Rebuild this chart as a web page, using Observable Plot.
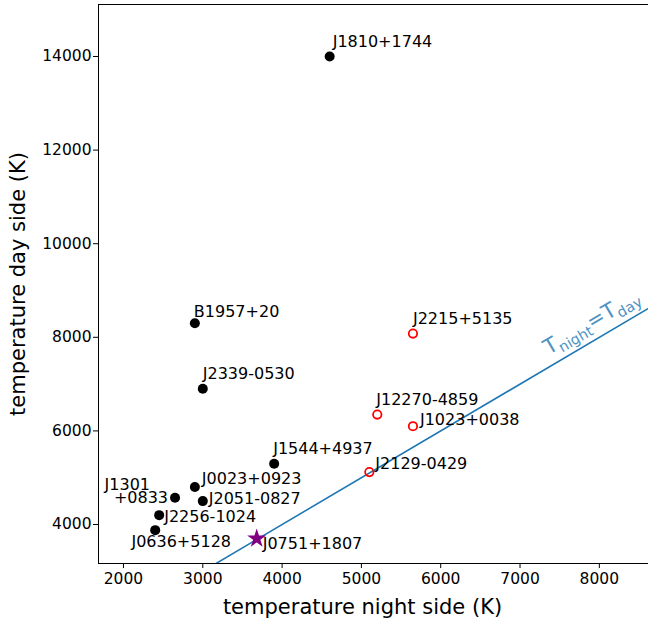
<!DOCTYPE html>
<html><head><meta charset="utf-8">
<script src="https://cdn.jsdelivr.net/npm/d3@7"></script>
<script src="https://cdn.jsdelivr.net/npm/@observablehq/plot@0.6"></script>
<style>body{margin:0;background:#fff;} svg{font-family:"DejaVu Sans",sans-serif;}</style>
</head><body><div id="chart"></div>
<script>
// ---- data ----
const names  = ["J1810+1744","B1957+20","J2339-0530","J1544+4937","J0023+0923","J1301\n+0833","J2051-0827","J2256-1024","J0636+5128","J0751+1807","J2215+5135","J12270-4859","J1023+0038","J2129-0429"];
const tNight = [4600, 2900, 3000, 3900, 2900, 2650, 3000, 2450, 2400, 3680, 5650, 5200, 5650, 5100];
const tDay   = [14000, 8300, 6900, 5300, 4800, 4570, 4500, 4200, 3880, 3700, 8080, 6350, 6100, 5120];
const kind   = ["filled","filled","filled","filled","filled","filled","filled","filled","filled","star","open","open","open","open"];
const xTicks = [2000, 3000, 4000, 5000, 6000, 7000, 8000];
const yTicks = [4000, 6000, 8000, 10000, 12000, 14000];
const equalLine = [3000, 9000];            // T_night = T_day reference line
const lineLabel = ["T_night=T_day"];
const lineLabelPos = [7900, 8330];
const xLabel = ["temperature night side (K)"];
const yLabel = ["temperature day side (K)"];

// label placement (style, not data)
const labelDx = [3, -1, 0, -1, 7, -7, 6, 5, 26, 6, 0, -1, 7, 6];
const labelDy = [-14, -11, -14, -14, -7, -5.5, -1, 2, 13, 6, -14, -14, -6, -7];
const labelAnchor = ["start","start","start","start","start","end","start","start","middle","start","start","start","start","start"];

const rows = names.map((n, i) => ({name: n, x: tNight[i], y: tDay[i], kind: kind[i], dx: labelDx[i], dy: labelDy[i], anchor: labelAnchor[i]}));
const lineRows = equalLine.map(v => ({x: v, y: v}));

const plot = Plot.plot({
  width: 648, height: 624,
  marginLeft: 98, marginRight: 0, marginTop: 4, marginBottom: 61,
  style: {fontFamily: "DejaVu Sans", fontSize: "15.5px", color: "black", background: "white", overflow: "visible"},
  x: {domain: [1685, 8620], label: null},
  y: {domain: [3167, 15111], label: null},
  marks: [
    Plot.frame({anchor: "left", stroke: "black"}),
    Plot.frame({anchor: "top", stroke: "black"}),
    Plot.frame({anchor: "bottom", stroke: "black"}),
    Plot.axisX({ticks: xTicks, tickFormat: "d", tickSize: 5, fontSize: 15.5, tickPadding: 4, label: null}),
    Plot.axisY({ticks: yTicks, tickFormat: "d", tickSize: 5, fontSize: 15.5, tickPadding: 2, label: null}),
    Plot.text(xLabel, {frameAnchor: "bottom", text: d => d, textAnchor: "middle", dx: -11, dy: 50, fontSize: 21, fill: "black"}),
    Plot.text(yLabel, {frameAnchor: "left", text: d => d, textAnchor: "middle", rotate: -90, dx: -80, fontSize: 21, fill: "black"}),
    Plot.line(lineRows, {x: "x", y: "y", stroke: "#1f77b4", strokeWidth: 1.6, clip: true}),
    Plot.dot(rows.filter(d => d.kind === "filled"), {x: "x", y: "y", r: 5, fill: "black"}),
    Plot.dot(rows.filter(d => d.kind === "open"), {x: "x", y: "y", r: 4.2, stroke: "red", strokeWidth: 1.8, fill: "none"}),
    Plot.dot(rows.filter(d => d.kind === "star"), {x: "x", y: "y", r: 6, symbol: "star", fill: "purple"}),
    ...["start","middle","end"].map(a =>
      Plot.text(rows.filter(d => d.anchor === a), {
        x: "x", y: "y", text: "name", textAnchor: a, fontSize: 16, fill: "black", lineHeight: 0.85,
        className: "lbl-" + a
      })
    ),
    Plot.text(lineLabel, {x: () => lineLabelPos[0], y: () => lineLabelPos[1], text: d => d,
      rotate: -30.55, fill: "#4c92c3", fontSize: 21, textAnchor: "middle", className: "eqlabel"})
  ]
});
document.getElementById("chart").appendChild(plot);

// apply per-label offsets
const svg = d3.select(plot);
["start","middle","end"].forEach(a => {
  const sub = rows.filter(d => d.anchor === a);
  svg.selectAll("g.lbl-" + a + " text").each(function(_, i) {
    const d = sub[i];
    const t = d3.select(this);
    const tr = t.attr("transform") || "";
    t.attr("transform", tr + ` translate(${d.dx},${d.dy})`);
  });
});
// "J1301" line sits further left than "+0833"
svg.selectAll("tspan").filter(function() { return this.textContent === "J1301"; }).attr("dx", -18);

// subscripts in the reference-line label
svg.selectAll("g.eqlabel text").each(function() {
  const t = d3.select(this);
  t.text("");
  t.append("tspan").attr("font-size", 21).text("T");
  t.append("tspan").attr("font-size", 14.5).attr("dy", 5).text("night");
  t.append("tspan").attr("font-size", 21).attr("dy", -5).text("=T");
  t.append("tspan").attr("font-size", 14.5).attr("dy", 5).text("day");
});
</script>
</body></html>
